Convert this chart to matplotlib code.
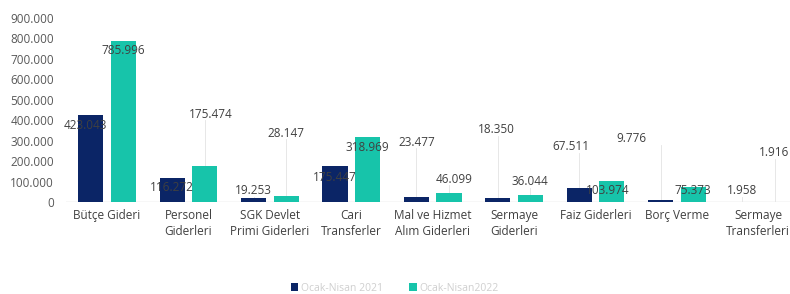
#!/usr/bin/env python
"""
Ocak-Nisan 2021 / 2022 butce giderleri (milyon TL)
"""

import numpy as np
import matplotlib
matplotlib.use('Agg')
import matplotlib.pyplot as plt
from matplotlib.ticker import FuncFormatter

categories = ['Bütçe Gideri', 'Personel\nGiderleri', 'SGK Devlet\nPrimi Giderleri',
              'Cari\nTransferler', 'Mal ve Hizmet\nAlım Giderleri', 'Sermaye\nGiderleri',
              'Faiz Giderleri', 'Borç Verme', 'Sermaye\nTransferleri']
y2021 = [423043, 116272, 19253, 175447, 23477, 18350, 67511, 9776, 1958]
y2022 = [785996, 175474, 28147, 318969, 46099, 36044, 103974, 75373, 1916]
yticks = [0, 100000, 200000, 300000, 400000, 500000, 600000, 700000, 800000, 900000]

# label placement (like the hand-placed labels in the source), x shift in category units
lbl_dx_2021 = [-0.07, 0, 0, 0, 0, -0.02, -0.1, -0.36, 0]
lbl_y_2021 = [376000, 68500, 53800, 122000, 293000, 352000, 269000, 308000, 53800]
lbl_dx_2022 = [0, 0.07, 0, 0, 0.06, 0, -0.05, 0, 0]
lbl_y_2022 = [743000, 430000, 337000, 264000, 112000, 98000, 54000, 54000, 240000]

C21 = '#0b2566'
C22 = '#17c4aa'

plt.rcParams['font.family'] = ['Open Sans', 'DejaVu Sans']


def fmt(v):
    return '{:,}'.format(int(v)).replace(',', '.')


fig = plt.figure(figsize=(7.9, 2.94), dpi=100)
ax = fig.add_axes([0.084, 0.313, 0.916, 0.626])

x = np.arange(len(categories))
w = 0.31
off = 0.2
ax.bar(x - off, y2021, w, color=C21, label='Ocak-Nisan 2021', zorder=2)
ax.bar(x + off, y2022, w, color=C22, label='Ocak-Nisan2022', zorder=2)

ax.set_xlim(-0.5, 8.39)
ax.set_ylim(0, 900000)
ax.set_yticks(yticks)
ax.yaxis.set_major_formatter(FuncFormatter(lambda v, p: fmt(v)))
ax.set_xticks(x)
ax.set_xticklabels(categories, fontsize=8.5, color='#404040', linespacing=1.3)
ax.tick_params(axis='y', length=0, labelsize=8.5, labelcolor='#595959', pad=9)
ax.tick_params(axis='x', length=0, pad=5)
for s in ax.spines.values():
    s.set_visible(False)
ax.axhline(0, color='#d9d9d9', lw=1, zorder=1)

# data labels with faint leader lines where the label sits above the bar
for vals, dxs, lys, sign in [(y2021, lbl_dx_2021, lbl_y_2021, -1),
                              (y2022, lbl_dx_2022, lbl_y_2022, 1)]:
    for i, v in enumerate(vals):
        bx = x[i] + sign * off
        ly = lys[i]
        if ly - 30000 > v:
            ax.plot([bx, bx], [v, ly - 30000], color='#e3e3e3', lw=0.6, zorder=1)
        ax.text(bx + dxs[i], ly, fmt(v), ha='center', va='center', fontsize=8.5,
                color='#404040', zorder=3, clip_on=False)

leg = fig.legend(loc='center', bbox_to_anchor=(0.5, 0.02), ncol=2, frameon=False,
                 fontsize=7.5, handlelength=0.7, handleheight=0.7, handletextpad=0.3,
                 columnspacing=2.5)
for t in leg.get_texts():
    t.set_color('#cfcfcf')

fig.savefig('out.png', dpi=100)
